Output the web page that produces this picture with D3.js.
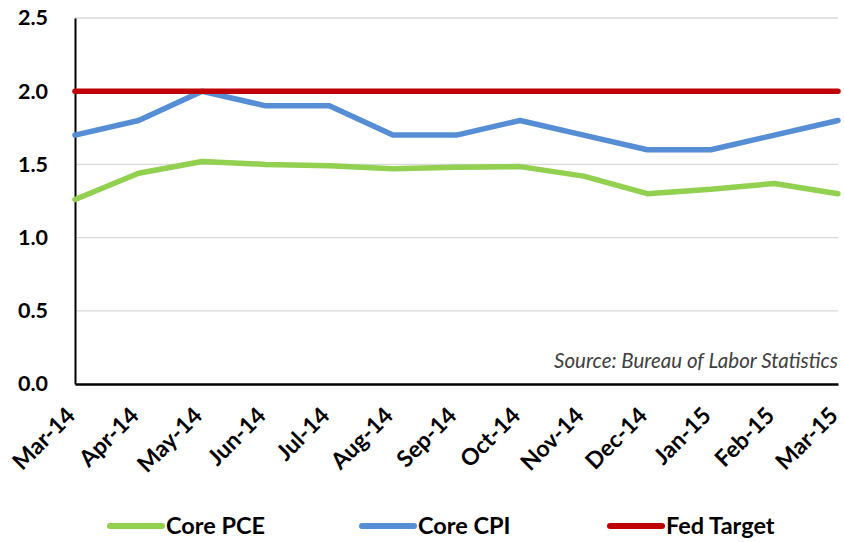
<!DOCTYPE html>
<html><head><meta charset="utf-8">
<script src="https://cdn.jsdelivr.net/npm/d3@7"></script>
<style>body{margin:0;background:#fff}</style>
</head><body><svg id="c" width="844" height="542"></svg>
<script>
const months = ["Mar-14","Apr-14","May-14","Jun-14","Jul-14","Aug-14","Sep-14","Oct-14","Nov-14","Dec-14","Jan-15","Feb-15","Mar-15"];
const corePCE = [1.26,1.44,1.52,1.50,1.49,1.47,1.48,1.485,1.42,1.30,1.33,1.37,1.30];
const coreCPI = [1.7,1.8,2.0,1.9,1.9,1.7,1.7,1.8,1.7,1.6,1.6,1.7,1.8];
const fedTarget = [2,2,2,2,2,2,2,2,2,2,2,2,2];
const yTicks = [0,0.5,1.0,1.5,2.0,2.5];
const seriesNames = ["Core PCE","Core CPI","Fed Target"];
const colors = ["#92d050","#558ed5","#c00000"];
const font = "Lato, 'Open Sans', sans-serif";

const svg = d3.select("#c");
const L=75, R=838, T=18, B=384;
const x = d3.scalePoint().domain(months).range([L,R]);
const y = d3.scaleLinear().domain([0,2.5]).range([B,T]);

// gridlines
svg.append("g").selectAll("line").data(yTicks.filter(d=>d>0)).join("line")
  .attr("x1",L).attr("x2",R).attr("y1",d=>y(d)).attr("y2",d=>y(d))
  .attr("stroke","#d9d9d9").attr("stroke-width",1.3);

// y axis
const ya = svg.append("g").attr("transform",`translate(${L},0)`)
  .call(d3.axisLeft(y).tickValues(yTicks).tickFormat(d3.format(".1f")).tickSize(0).tickPadding(27));
ya.select(".domain").attr("stroke","#000").attr("stroke-width",2);
ya.selectAll("text").attr("font-family",font).attr("font-weight","bold").attr("font-size",21.5).attr("fill","#000");

// x axis
const xa = svg.append("g").attr("transform",`translate(0,${B})`)
  .call(d3.axisBottom(x).tickSize(0).tickPadding(0));
xa.select(".domain").attr("stroke","#000").attr("stroke-width",2.5);
xa.selectAll("text").attr("font-family",font).attr("font-weight","bold").attr("font-size",23).attr("fill","#000")
  .attr("text-anchor","end").attr("dy",0).attr("transform","translate(1,33) rotate(-45)");

// lines
const series = [corePCE, coreCPI, fedTarget];
const line = d3.line().x((d,i)=>x(months[i])).y(d=>y(d));
series.forEach((s,k)=>{
  svg.append("path").datum(s).attr("d",line).attr("fill","none")
    .attr("stroke",colors[k]).attr("stroke-width",5.5)
    .attr("stroke-linejoin","round").attr("stroke-linecap","round");
});

// source
svg.append("text").attr("x",838).attr("y",368).attr("text-anchor","end")
  .attr("font-family",font).attr("font-style","italic").attr("font-size",20.5)
  .attr("fill","#404040").text("Source: Bureau of Labor Statistics");

// legend
const legX = [108,360,608];
const lg = svg.append("g").selectAll("g").data(seriesNames).join("g")
  .attr("transform",(d,i)=>`translate(${legX[i]},526)`);
lg.append("line").attr("x1",2).attr("x2",54).attr("y1",0).attr("y2",0)
  .attr("stroke",(d,i)=>colors[i]).attr("stroke-width",6).attr("stroke-linecap","round");
lg.append("text").attr("x",58).attr("y",0).attr("dy","0.35em")
  .attr("font-family",font).attr("font-weight","bold").attr("font-size",23.5).attr("fill","#000").text(d=>d);
</script></body></html>
